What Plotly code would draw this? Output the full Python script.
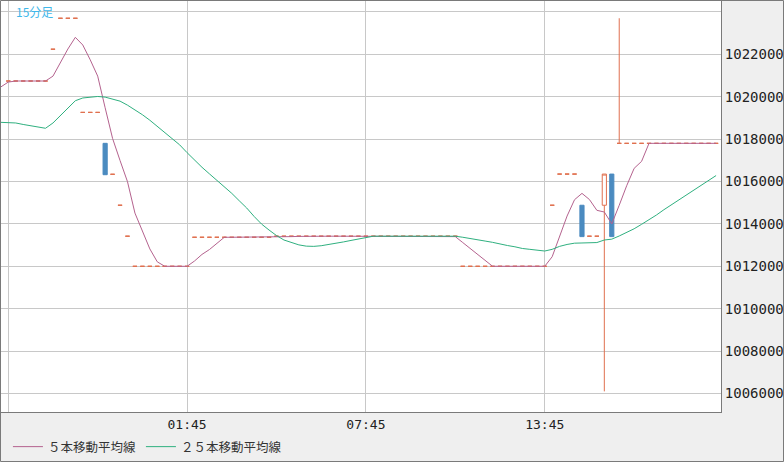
import pandas as pd
import plotly.graph_objects as go

# 15 minute bars, 19:30 one evening to 19:30 the next
times = pd.date_range("2019-07-29 19:30", periods=97, freq="15min")

open_ = [None,
    10207400, 10207400, 10207400, 10207400, 10207400, 10207400,
    10222400, 10237000, 10237000, 10237000,
    10192600, 10192600, 10192600, 10178000, 10163400, 10148800, 10134200,
    10120000, 10120000, 10120000, 10120000, 10120000,
    10120000, 10120000, 10120000,
    10133700, 10133700, 10133700, 10133700, 10133700,
    10133700, 10133700, 10133700, 10133700, 10133700,
    10133700,
    10134200, 10134200, 10134200, 10134200, 10134200,
    10134200, 10134200, 10134200, 10134200, 10134200,
    10134200, 10134200, 10134200, 10134200, 10134200,
    10134200, 10134200, 10134200, 10134200, 10134200,
    10134200, 10134200, 10134200, 10134200, 10134200,
    10120000, 10120000, 10120000, 10120000, 10120000,
    10120000, 10120000, 10120000, 10120000, 10120000,
    10120000, 10120000,
    10148800, 10163500, 10163500, 10163500, 10148800, 10134200, 10134200, 10148800, 10163500,
    10178000, 10178000, 10178000, 10178000, 10178000,
    10178000, 10178000, 10178000, 10178000, 10178000,
    10178000, 10178000, 10178000, 10178000]

high = [None,
    10207400, 10207400, 10207400, 10207400, 10207400, 10207400,
    10222400, 10237000, 10237000, 10237000,
    10192600, 10192600, 10192600, 10178000, 10163400, 10148800, 10134200,
    10120000, 10120000, 10120000, 10120000, 10120000,
    10120000, 10120000, 10120000,
    10133700, 10133700, 10133700, 10133700, 10133700,
    10133700, 10133700, 10133700, 10133700, 10133700,
    10133700,
    10134200, 10134200, 10134200, 10134200, 10134200,
    10134200, 10134200, 10134200, 10134200, 10134200,
    10134200, 10134200, 10134200, 10134200, 10134200,
    10134200, 10134200, 10134200, 10134200, 10134200,
    10134200, 10134200, 10134200, 10134200, 10134200,
    10120000, 10120000, 10120000, 10120000, 10120000,
    10120000, 10120000, 10120000, 10120000, 10120000,
    10120000, 10120000,
    10148800, 10163500, 10163500, 10163500, 10148800, 10134200, 10134200, 10163500, 10163500,
    10237000, 10178000, 10178000, 10178000, 10178000,
    10178000, 10178000, 10178000, 10178000, 10178000,
    10178000, 10178000, 10178000, 10178000]

low = [None,
    10207400, 10207400, 10207400, 10207400, 10207400, 10207400,
    10222400, 10237000, 10237000, 10237000,
    10192600, 10192600, 10192600, 10163200, 10163400, 10148800, 10134200,
    10120000, 10120000, 10120000, 10120000, 10120000,
    10120000, 10120000, 10120000,
    10133700, 10133700, 10133700, 10133700, 10133700,
    10133700, 10133700, 10133700, 10133700, 10133700,
    10133700,
    10134200, 10134200, 10134200, 10134200, 10134200,
    10134200, 10134200, 10134200, 10134200, 10134200,
    10134200, 10134200, 10134200, 10134200, 10134200,
    10134200, 10134200, 10134200, 10134200, 10134200,
    10134200, 10134200, 10134200, 10134200, 10134200,
    10120000, 10120000, 10120000, 10120000, 10120000,
    10120000, 10120000, 10120000, 10120000, 10120000,
    10120000, 10120000,
    10148800, 10163500, 10163500, 10163500, 10134000, 10134200, 10134200, 10061000, 10134000,
    10178000, 10178000, 10178000, 10178000, 10178000,
    10178000, 10178000, 10178000, 10178000, 10178000,
    10178000, 10178000, 10178000, 10178000]

close = [None,
    10207400, 10207400, 10207400, 10207400, 10207400, 10207400,
    10222400, 10237000, 10237000, 10237000,
    10192600, 10192600, 10192600, 10163200, 10163400, 10148800, 10134200,
    10120000, 10120000, 10120000, 10120000, 10120000,
    10120000, 10120000, 10120000,
    10133700, 10133700, 10133700, 10133700, 10133700,
    10133700, 10133700, 10133700, 10133700, 10133700,
    10133700,
    10134200, 10134200, 10134200, 10134200, 10134200,
    10134200, 10134200, 10134200, 10134200, 10134200,
    10134200, 10134200, 10134200, 10134200, 10134200,
    10134200, 10134200, 10134200, 10134200, 10134200,
    10134200, 10134200, 10134200, 10134200, 10134200,
    10120000, 10120000, 10120000, 10120000, 10120000,
    10120000, 10120000, 10120000, 10120000, 10120000,
    10120000, 10120000,
    10148800, 10163500, 10163500, 10163500, 10134000, 10134200, 10134200, 10163500, 10134000,
    10178000, 10178000, 10178000, 10178000, 10178000,
    10178000, 10178000, 10178000, 10178000, 10178000,
    10178000, 10178000, 10178000, 10178000]

# moving averages
ma5 = [10204600,
    10206900, 10207400, 10207400, 10207400, 10207400, 10207400,
    10209700, 10216000, 10222500, 10228000, 10224400, 10217400, 10209700, 10194800,
    10180300, 10169900, 10159900, 10145100, 10136700, 10128200, 10122100,
    10120000, 10120000, 10120000, 10120000,
    10122500, 10125600, 10127900, 10130800,
    10133700, 10133700, 10133700, 10133700, 10133700, 10133700, 10133700,
    10133800, 10133900, 10134000, 10134100,
    10134200, 10134200, 10134200, 10134200, 10134200,
    10134200, 10134200, 10134200, 10134200, 10134200,
    10134200, 10134200, 10134200, 10134200, 10134200,
    10134200, 10134200, 10134200, 10134200, 10134200,
    10134000,
    10131200, 10128300, 10125500, 10122600,
    10120000, 10120000, 10120000, 10120000, 10120000, 10120000, 10120000, 10120000,
    10124500, 10134400, 10143700, 10151400, 10154400, 10151500, 10146400,
    10145600, 10140000, 10148800, 10158000, 10166200, 10169500,
    10178000, 10178000, 10178000, 10178000, 10178000,
    10178000, 10178000, 10178000, 10178000, 10178000]

ma25 = [10187900,
    10187800, 10187600, 10186900, 10186200, 10185600, 10185100,
    10187600, 10191100, 10194700, 10198100, 10199400, 10199800, 10200100, 10199800, 10199000, 10197900,
    10196000, 10193900, 10191500, 10188900, 10186000, 10183200, 10180400, 10177300, 10173600, 10169900,
    10166700, 10163600, 10160600, 10157400, 10154400, 10150900, 10147500, 10143500, 10139900, 10137100,
    10134500, 10132400, 10131100, 10130100, 10129500, 10129400, 10129700, 10130200, 10130800, 10131500,
    10132200, 10132900, 10133500,
    10134200, 10134200, 10134200, 10134200, 10134200, 10134200,
    10134200, 10134200, 10134200, 10134200, 10134200, 10134200,
    10133700, 10133000, 10132400, 10131900, 10131300, 10130400, 10129800, 10129200, 10128400, 10128000,
    10127500, 10127200, 10128000, 10129400, 10130300, 10130900, 10131000, 10131100, 10131200, 10132400,
    10132800, 10134300, 10135900, 10137700, 10139800, 10141800, 10144200, 10146700, 10149000, 10151300,
    10153600, 10155900, 10158200, 10160500, 10162800]

price_ticks = [10060000, 10080000, 10100000, 10120000, 10140000,
               10160000, 10180000, 10200000, 10220000, 10240000]
price_labels = ["10060000", "10080000", "10100000", "10120000", "10140000",
                "10160000", "10180000", "10200000", "10220000", ""]
time_ticks = ["2019-07-29 19:45", "2019-07-30 01:45", "2019-07-30 07:45", "2019-07-30 13:45"]
time_labels = ["", "01:45", "07:45", "13:45"]

UP = "#e0704f"
DOWN = "#4b8bc0"
PINK = "#b4628e"
GREEN = "#2fb07f"

up = [i for i in range(len(times)) if close[i] is not None and close[i] >= open_[i]]
down = [i for i in range(len(times)) if close[i] is not None and close[i] < open_[i]]

def candles(idx, line_color, fill):
    return go.Candlestick(
        x=[times[i] for i in idx],
        open=[open_[i] for i in idx], high=[high[i] for i in idx],
        low=[low[i] for i in idx], close=[close[i] for i in idx],
        increasing=dict(line=dict(color=line_color, width=1), fillcolor=fill),
        decreasing=dict(line=dict(color=line_color, width=1), fillcolor=fill),
        whiskerwidth=0, showlegend=False, hoverinfo="skip")

fig = go.Figure()
fig.add_trace(candles(up, UP, "white"))
fig.add_trace(candles(down, DOWN, DOWN))
fig.add_trace(go.Scatter(x=times, y=ma5, mode="lines", name="５本移動平均線",
                         line=dict(color=PINK, width=1)))
fig.add_trace(go.Scatter(x=times, y=ma25, mode="lines", name="２５本移動平均線",
                         line=dict(color=GREEN, width=1)))

fig.add_annotation(text="15分足", xref="paper", yref="paper", x=0.019, y=0.997,
                   xanchor="left", yanchor="top", showarrow=False,
                   font=dict(family="Noto Sans CJK JP", size=12, color="#3fb8ea"))

# outer frame of the whole picture
fig.add_shape(type="rect", xref="paper", yref="paper",
              x0=0.5 / 721, x1=783.5 / 721, y0=(412 - 461.5) / 412, y1=(412 - 0.5) / 412,
              line=dict(color="#7a7a7a", width=1), layer="above")

fig.update_layout(
    width=784, height=462,
    margin=dict(l=0, r=63, t=0, b=50),
    paper_bgcolor="#efefef", plot_bgcolor="white",
    boxgap=0.2,
    showlegend=True,
    legend=dict(orientation="h", x=0.011, y=-0.085, xanchor="left", yanchor="middle",
                font=dict(family="Noto Sans CJK JP", size=12.5, color="#333333"),
                bgcolor="rgba(0,0,0,0)", itemwidth=30),
    xaxis=dict(type="date", range=["2019-07-29 19:28:20", "2019-07-30 19:39:54"],
               tickvals=time_ticks, ticktext=time_labels,
               showgrid=True, gridcolor="#c8c8c8", gridwidth=1,
               showline=True, mirror=True, linecolor="#7a7a7a", linewidth=1,
               ticks="", zeroline=False, rangeslider=dict(visible=False), automargin=False,
               tickfont=dict(family="DejaVu Sans Mono", size=13, color="#222222")),
    yaxis=dict(side="right", range=[10051270, 10245610],
               tickvals=price_ticks, ticktext=price_labels,
               showgrid=True, gridcolor="#c8c8c8", gridwidth=1,
               showline=True, mirror=True, linecolor="#7a7a7a", linewidth=1,
               ticks="", zeroline=False, automargin=False,
               tickfont=dict(family="DejaVu Sans Mono", size=14, color="#222222")),
)

fig.write_html("out.html", config={"displayModeBar": False},
               post_script="document.body.style.margin='0px';")
